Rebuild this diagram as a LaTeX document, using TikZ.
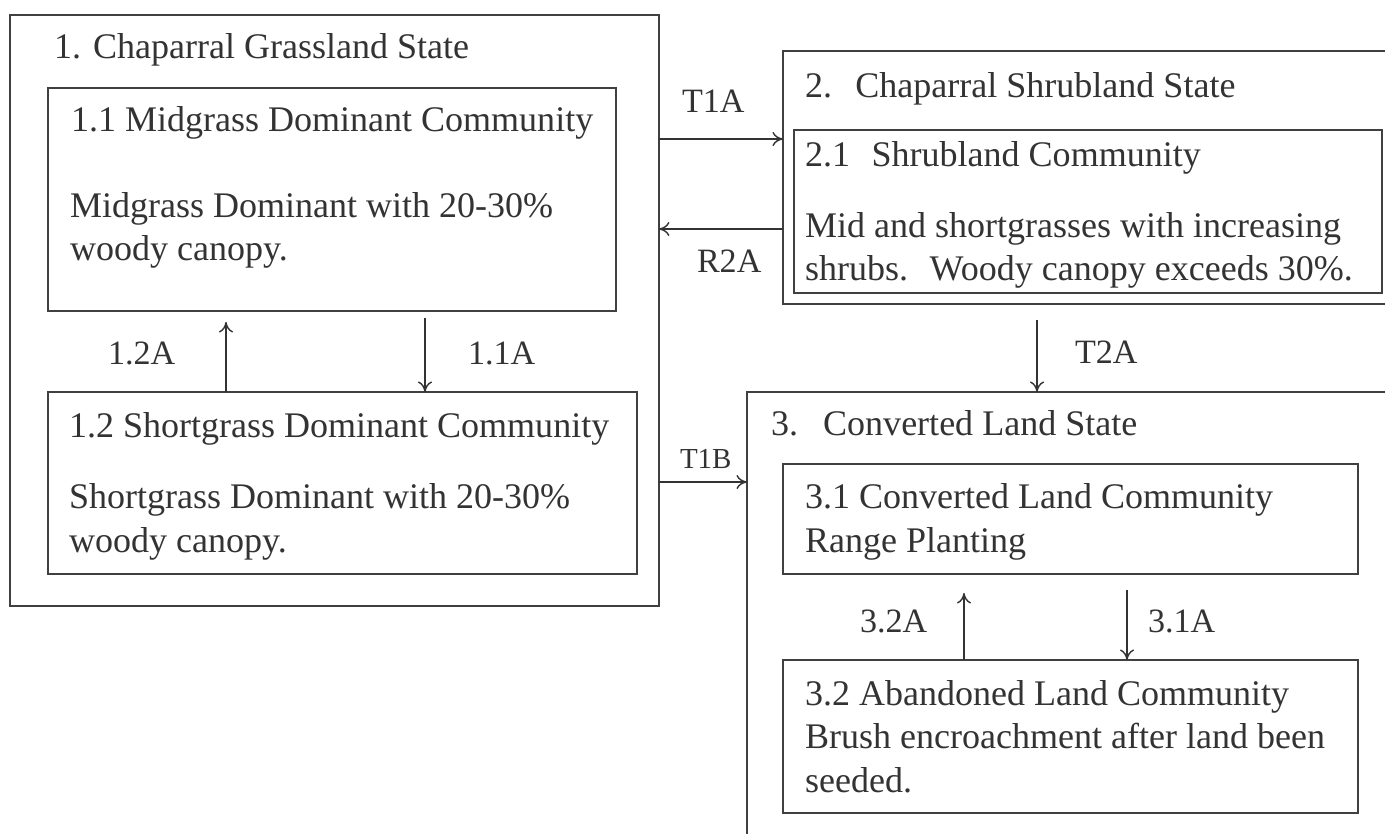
\documentclass[tikz,border=0pt]{standalone}
\usepackage{fontspec}
\setmainfont{Liberation Serif}
\usetikzlibrary{arrows.meta}
\begin{document}
\begin{tikzpicture}[x=0.02cm,y=-0.02cm,line width=1.1pt]
      \tikzstyle{every node}=[inner sep=0pt,outer sep=0pt,text=black!80,font=\fontsize{20.5}{24.5}\selectfont];
      \tikzstyle{box}=[draw=black!75,anchor=north west];
      \tikzstyle{txt}=[anchor=base west,align=left];
      \tikzstyle{lbl}=[anchor=base west,font=\fontsize{19.4}{23}\selectfont];
      \tikzstyle{arr}=[line width=0.8pt,draw=black!80,-{To[length=6pt,width=8pt]}];
      \useasboundingbox[fill=white] (0,0) rectangle (1385,834);

      \node[box,minimum width=12.98cm,minimum height=11.82cm] (s1) at (10,15) {};
      \node[box,minimum width=11.36cm,minimum height=4.46cm] (c11) at (48,88) {};
      \node[box,minimum width=11.78cm,minimum height=3.64cm] (c12) at (48,392) {};
      \node[box,minimum width=12.18cm,minimum height=5.06cm] (s2) at (783,51) {};
      \node[box,minimum width=11.76cm,minimum height=3.26cm] (c21) at (794,130) {};
      \node[box,minimum width=13.06cm,minimum height=9.16cm] (s3) at (747,392) {};
      \node[box,minimum width=11.5cm,minimum height=2.2cm] (c31) at (783,464) {};
      \node[box,minimum width=11.5cm,minimum height=3.06cm] (c32) at (783,660) {};

      \node[txt] (t1) at (54,59) {1. Chaparral Grassland State};
      \node[txt] (t11) at (71,132) {1.1 Midgrass Dominant Community};
      \node[txt] (d11) at (70,261) {Midgrass Dominant with 20-30\%\\woody canopy.};
      \node[txt] (t12) at (69,437) {1.2 Shortgrass Dominant Community};
      \node[txt] (d12) at (69,552) {Shortgrass Dominant with 20-30\%\\woody canopy.};
      \node[txt] (t2) at (805,98) {2.\hspace{0.65em}Chaparral Shrubland State};
      \node[txt] (t21) at (805,167) {2.1\hspace{0.6em}Shrubland Community};
      \node[txt] (d21) at (805,281) {Mid and shortgrasses with increasing\\shrubs.\hspace{0.6em}Woody canopy exceeds 30\%.};
      \node[txt] (t3) at (771,435) {3.\hspace{0.7em}Converted Land State};
      \node[txt] (t31) at (805,552) {3.1 Converted Land Community\\Range Planting};
      \node[txt] (t32) at (805,792) {3.2 Abandoned Land Community\\Brush encroachment after land been\\seeded.};

      \draw[arr] (s1.east |- 0,139) -- (s2.west |- 0,139);
      \draw[arr] (s2.west |- 0,229) -- (s1.east |- 0,229);
      \draw[arr] (s1.east |- 0,482) -- (s3.west |- 0,482);
      \draw[arr,shorten >=0.22cm] (c12.north -| 226,0) -- (c11.south -| 226,0);
      \draw[arr,shorten <=0.14cm] (c11.south -| 425,0) -- (c12.north -| 425,0);
      \draw[arr,shorten <=0.32cm] (s2.south -| 1037,0) -- (s3.north -| 1037,0);
      \draw[arr,shorten >=0.38cm] (c32.north -| 964,0) -- (c31.south -| 964,0);
      \draw[arr,shorten <=0.32cm] (c31.south -| 1127,0) -- (c32.north -| 1127,0);

      \node[lbl] (l1) at (682,113) {T1A};
      \node[lbl] (l2) at (697,273) {R2A};
      \node[lbl,font=\fontsize{16.5}{20}\selectfont] (l3) at (680,468) {T1B};
      \node[lbl] (l4) at (108,364) {1.2A};
      \node[lbl] (l5) at (468,364) {1.1A};
      \node[lbl] (l6) at (1075,363) {T2A};
      \node[lbl] (l7) at (860,632) {3.2A};
      \node[lbl] (l8) at (1148,632) {3.1A};
    \end{tikzpicture}
\end{document}
